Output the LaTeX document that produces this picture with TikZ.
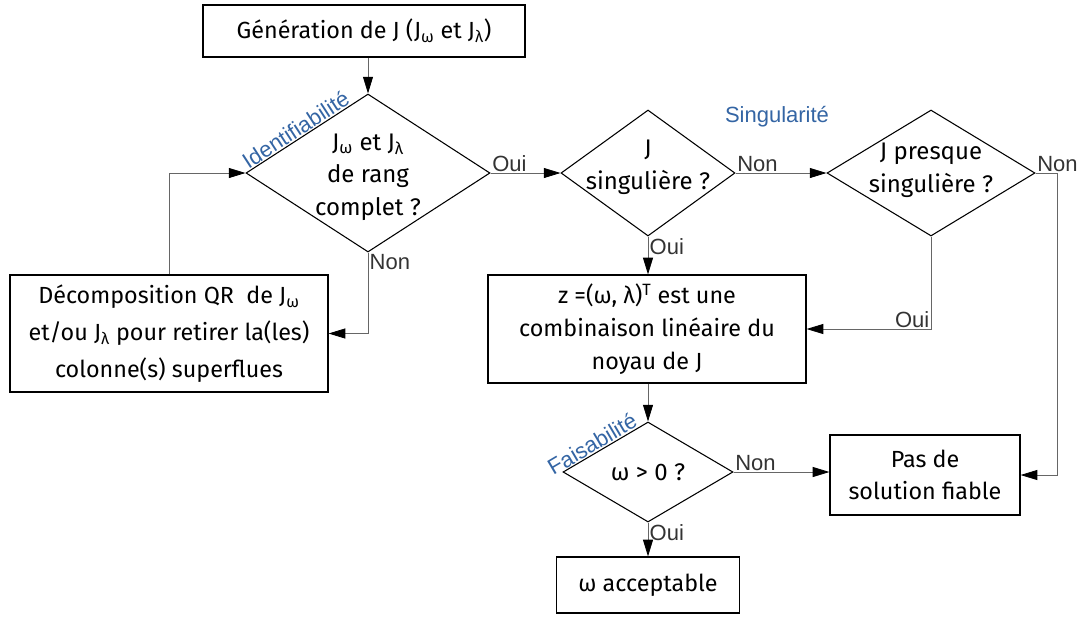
\documentclass[tikz,border=0pt]{standalone}
\usepackage{fontspec}
\setmainfont{Fira Sans}
\newfontfamily\tagfont{Liberation Sans}
\usepackage{xcolor}
\usetikzlibrary{arrows.meta, shapes.geometric}
\definecolor{themeblue}{HTML}{3465A4}

\begin{document}
\begin{tikzpicture}[x=0.75pt, y=-0.75pt,
    box/.style={rectangle, draw, line width=0.9pt, inner sep=0pt, align=center, font=\fontsize{17.5}{24.5}\selectfont},
    choice/.style={diamond, draw, line width=0.8pt, inner sep=0pt},
    txt/.style={align=center, inner sep=0pt, font=\fontsize{18}{24.5}\selectfont},
    link/.style={-{Triangle[length=12.5pt, width=7.5pt, color=black]}, draw=black!60, line width=0.6pt},
    tag/.style={font=\tagfont\fontsize{16.5}{18}\selectfont, text=black!80, inner sep=1pt},
    theme/.style={font=\tagfont\fontsize{16.5}{18}\selectfont, text=themeblue, inner sep=0.5pt}]
    \useasboundingbox (0,0) rectangle (1081,619);

    % boites
    \node[box, minimum width=241.5pt, minimum height=39pt] at (364,31) (gen) {Génération de J (J\textsubscript{ω} et J\textsubscript{λ})};
    \node[box, minimum width=238.5pt, minimum height=87.75pt, font=\fontsize{17.5}{27.5}\selectfont] at (169,333.5) (qr) {Décomposition QR~ de J\textsubscript{ω}\\et/ou J\textsubscript{λ} pour retirer la(les)\\colonne(s) superflues};
    \node[box, minimum width=238.5pt, minimum height=81pt] at (647,329) (noyau) {z =(ω, λ)\textsuperscript{T} est une\\combinaison linéaire du\\noyau de J};
    \node[box, minimum width=142.5pt, minimum height=60pt] at (925,475) (pas) {Pas de\\solution fiable};
    \node[box, minimum width=137.25pt, minimum height=42pt] at (648,585) (acc) {ω acceptable};

    % tests
    \node[choice, minimum width=183pt, minimum height=118.5pt] at (368,173) (d1) {};
    \node[choice, minimum width=130.5pt, minimum height=94.5pt] at (648,173) (d2) {};
    \node[choice, minimum width=156pt, minimum height=94.5pt] at (931,173) (d3) {};
    \node[choice, minimum width=127.5pt, minimum height=75pt] at (648,472) (d4) {};

    \node[txt] at (368,177) (d1t) {J\textsubscript{ω} et J\textsubscript{λ}\\de rang\\complet ?};
    \node[txt] at (648,167) (d2t) {J\\singulière ?};
    \node[txt] at (931,170) (d3t) {J presque\\singulière ?};
    \node[txt] at (648,472) (d4t) {ω > 0 ?};

    % themes
    \path (d1.west) -- node[theme, sloped, above, pos=0.45] (idlab) {Identifiabilité} (d1.north);
    \path (d4.west) -- node[theme, sloped, above, pos=0.4] (faislab) {Faisabilité} (d4.north);
    \node[theme] at (777,117) (singlab) {Singularité};

    \coordinate (rt) at (1057,173);

    % liens
    \draw [link] (d1.north |- gen.south) -- (d1.north);
    \draw [link] (d1.east) -- node[tag, pos=0, anchor=south west] (o1) {Oui} (d2.west);
    \draw [link] (d2.east) -- node[tag, pos=0, anchor=south west] (n2) {Non} (d3.west);
    \draw [link] (d3.east) -- node[tag, pos=0, anchor=south west] (n3) {Non} (rt) |- (pas.east);
    \draw [link] (d3.south) |- node[tag, pos=0.5, anchor=south east] (o3) {Oui} (noyau.east);
    \draw [link] (d2.south) -- node[tag, pos=0, anchor=north west] (o2) {Oui} (d2.south |- noyau.north);
    \draw [link] (d1.south) |- node[tag, pos=0, anchor=north west] (n1) {Non} (qr.east);
    \draw [link] (qr.north) |- (d1.west);
    \draw [link] (noyau.south -| d4.north) -- (d4.north);
    \draw [link] (d4.east) -- node[tag, pos=0, anchor=south west] (n4) {Non} (d4.east -| pas.west);
    \draw [link] (d4.south) -- node[tag, pos=0, anchor=north west] (o4) {Oui} (acc.north);
\end{tikzpicture}
\end{document}
